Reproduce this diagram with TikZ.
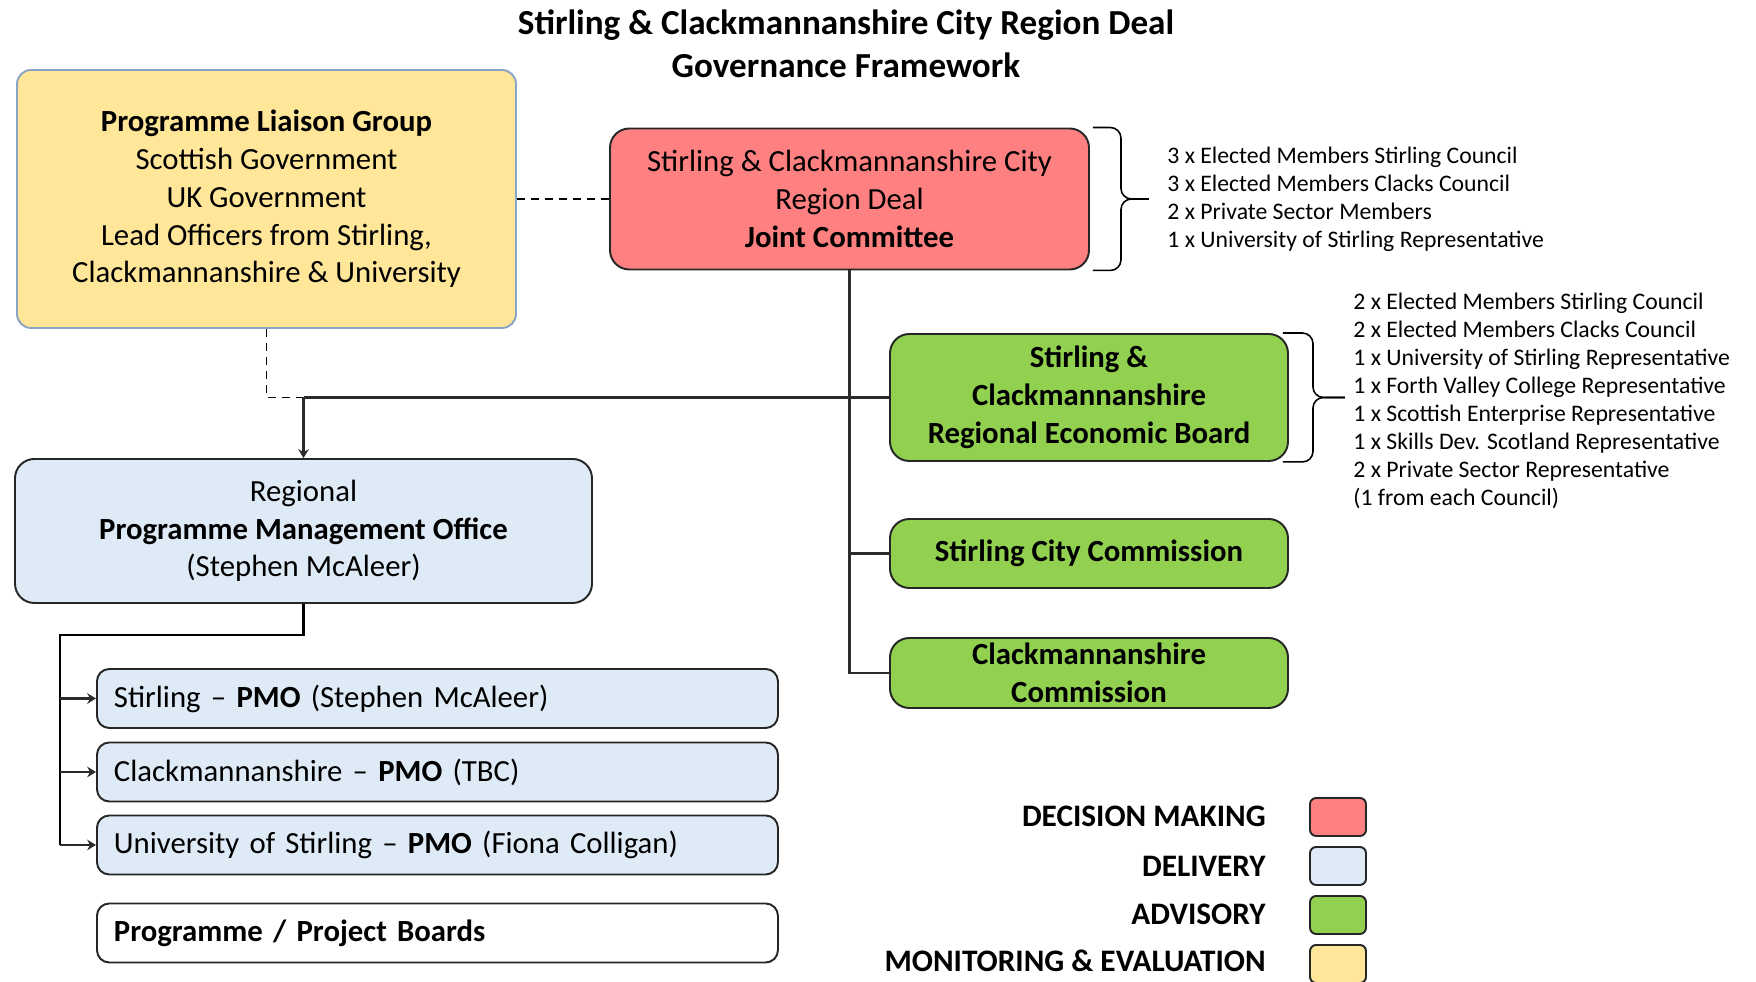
\documentclass[tikz,border=0pt]{standalone}
\usepackage{fontspec}
\setmainfont{Carlito}
\usepackage{xcolor}
\usepackage{tikz}
\usetikzlibrary{arrows.meta,positioning,calc}

\definecolor{plgyellow}{HTML}{FFE699}
\definecolor{plgedge}{HTML}{8AA4C4}
\definecolor{jcred}{HTML}{FF8080}
\definecolor{pmoblue}{HTML}{DEEAF6}
\definecolor{advgreen}{HTML}{92D050}
\definecolor{edgegray}{HTML}{262626}
\definecolor{linkgray}{HTML}{2B2B2B}

\begin{document}
\begin{tikzpicture}[
  >={Stealth[length=5pt,width=6pt]},
  box/.style={draw=edgegray, line width=1.1pt, rounded corners=11pt, align=center,
    inner sep=0pt, font=\fontsize{17.5}{21.5}\selectfont},
  pmobox/.style={box, fill=pmoblue, rounded corners=7pt, text width=12.94cm,
    inner xsep=0.34cm, minimum height=1.18cm, align=left, anchor=west},
  swatch/.style={draw=edgegray, line width=1.1pt, rounded corners=3.5pt,
    minimum width=1.12cm, minimum height=0.76cm, inner sep=0pt},
  legendlabel/.style={anchor=east, inner sep=0pt, font=\fontsize{17.8}{20}\selectfont\bfseries},
  members/.style={anchor=west, align=left, inner sep=0pt, font=\fontsize{13.5}{16}\selectfont},
  link/.style={draw=linkgray, line width=1.2pt},
  bus/.style={draw=black, line width=1.6pt},
  liaison/.style={draw=black, line width=1.1pt, dashed, dash pattern=on 4.5pt off 3.5pt},
  memberbrace/.style={draw=black, line width=0.9pt, rounded corners=6pt}
]

\useasboundingbox (0, 0) rectangle (35.12, 19.64);

% Title
\node[font=\fontsize{20}{24.4}\selectfont\bfseries, align=center] (title) at (16.92, 18.77)
  {Stirling \& Clackmannanshire City Region Deal\\ Governance Framework};

% ==================== Top row: liaison group and joint committee ====================
\node[box, fill=plgyellow, draw=plgedge, rounded corners=8pt, minimum width=9.98cm, minimum height=5.16cm]
  (plg) at (5.33, 15.66) {
  \textbf{Programme Liaison Group}\\
  Scottish Government\\
  UK Government\\
  Lead Officers from Stirling,\\
  Clackmannanshire \& University
};

\node[box, fill=jcred, minimum width=9.58cm, minimum height=2.82cm] (jc) at (16.99, 15.66) {
  Stirling \& Clackmannanshire City\\
  Region Deal\\
  \textbf{Joint Committee}
};

% Joint committee membership
\draw[memberbrace] ($(jc.north east)+(0.06,0)$) -- ++(0.56,0) -- ($(jc.east)+(0.62,0)$) -- ++(0.56,0);
\draw[memberbrace] ($(jc.south east)+(0.06,0)$) -- ++(0.56,0) -- ($(jc.east)+(0.62,0)$) -- ++(0.56,0);
\node[members] (jcmembers) at (23.34, 15.65) {
  3 x Elected Members Stirling Council\\
  3 x Elected Members Clacks Council\\
  2 x Private Sector Members\\
  1 x University of Stirling Representative
};

% ==================== Advisory boards (green) ====================
\node[box, fill=advgreen, font=\fontsize{17.5}{21.5}\selectfont\bfseries, minimum width=7.96cm, minimum height=2.54cm]
  (reb) at (21.78, 11.69) {
  Stirling \&\\
  Clackmannanshire\\
  Regional Economic Board
};

\draw[memberbrace] ($(reb.north east)+(-0.12,0)$) -- ++(0.6,0) -- ($(reb.east)+(0.48,0)$) -- ++(0.64,0);
\draw[memberbrace] ($(reb.south east)+(-0.12,0)$) -- ++(0.6,0) -- ($(reb.east)+(0.48,0)$) -- ++(0.64,0);
\node[members] (rebmembers) at (27.06, 11.62) {
  2 x Elected Members Stirling Council\\
  2 x Elected Members Clacks Council\\
  1 x University of Stirling Representative\\
  1 x Forth Valley College Representative\\
  1 x Scottish Enterprise Representative\\
  1 x Skills Dev. Scotland Representative\\
  2 x Private Sector Representative\\
  (1 from each Council)
};

\node[box, fill=advgreen, font=\fontsize{17.5}{21.5}\selectfont\bfseries, minimum width=7.96cm, minimum height=1.38cm]
  (citycom) at (21.78, 8.57) {Stirling City Commission};

\node[box, fill=advgreen, font=\fontsize{17.5}{21.5}\selectfont\bfseries, minimum width=7.96cm, minimum height=1.40cm]
  (clackcom) at (21.78, 6.18) {Clackmannanshire\\ Commission};

% ==================== Delivery (blue) ====================
\node[box, fill=pmoblue, minimum width=11.54cm, minimum height=2.88cm] (rpmo) at (6.07, 9.02) {
  Regional\\
  \textbf{Programme Management Office}\\
  (Stephen McAleer)
};

\node[pmobox] (pmostir)  at (1.92, 5.67) {Stirling -- \textbf{PMO} (Stephen McAleer)};
\node[pmobox] (pmoclack) at (1.92, 4.20) {Clackmannanshire -- \textbf{PMO} (TBC)};
\node[pmobox] (pmouni)   at (1.92, 2.74) {University of Stirling -- \textbf{PMO} (Fiona Colligan)};

\node[pmobox, fill=white] (boards) at (1.92, 0.98) {\textbf{Programme / Project Boards}};

% ==================== Connectors ====================
\coordinate (pmojoin) at (rpmo.north |- reb.west);
\coordinate (busleft) at (1.20, 6.94);

\draw[liaison] (plg.east) -- (jc.west);
\draw[liaison] (plg.south) |- (pmojoin);

\draw[link] (jc.south) -- (jc.south |- clackcom.west) -- (clackcom.west);
\draw[link] (jc.south |- citycom.west) -- (citycom.west);
\draw[link] (reb.west) -- (pmojoin);
\draw[link, ->] (pmojoin) -- (rpmo.north);

\draw[bus] (rpmo.south) |- (busleft) -- (busleft |- pmouni.west);
\draw[link, ->] (busleft |- pmostir.west) -- (pmostir.west);
\draw[link, ->] (busleft |- pmoclack.west) -- (pmoclack.west);
\draw[link, ->] (busleft |- pmouni.west) -- (pmouni.west);

% ==================== Legend ====================
\node[legendlabel] (lgdm) at (25.32, 3.32) {DECISION MAKING};
\node[legendlabel] (lgdl) at (25.32, 2.32) {DELIVERY};
\node[legendlabel] (lgad) at (25.32, 1.36) {ADVISORY};
\node[legendlabel] (lgme) at (25.32, 0.42) {MONITORING \& EVALUATION};

\node[swatch, fill=jcred]     (swdm) at (26.76, 3.30) {};
\node[swatch, fill=pmoblue]   (swdl) at (26.76, 2.32) {};
\node[swatch, fill=advgreen]  (swad) at (26.76, 1.34) {};
\node[swatch, fill=plgyellow] (swme) at (26.76, 0.36) {};

\end{tikzpicture}
\end{document}
